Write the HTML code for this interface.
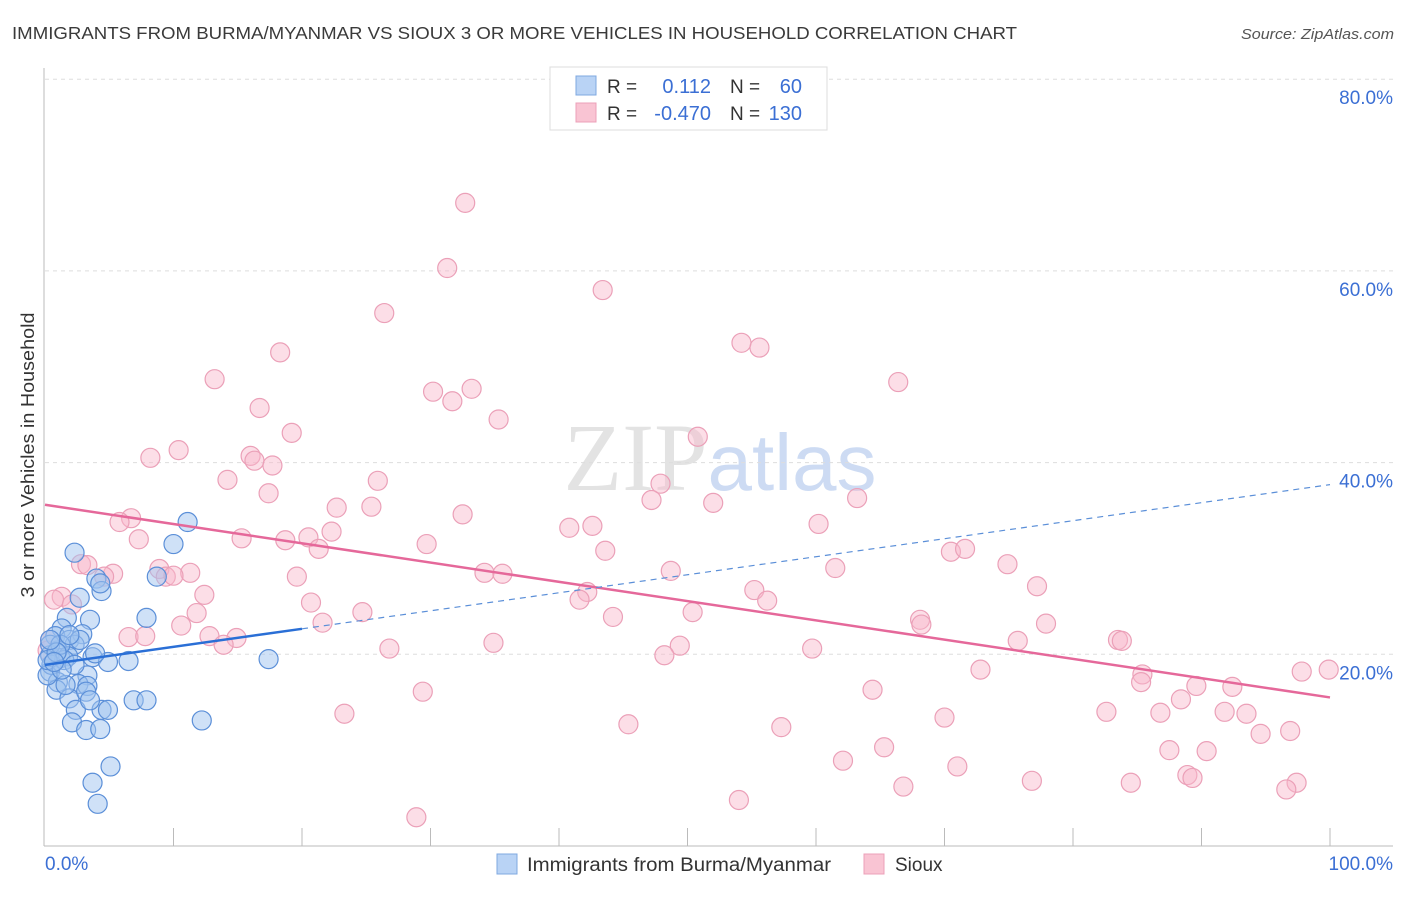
<!DOCTYPE html>
<html><head><meta charset="utf-8"><style>
body{margin:0;background:#fff;font-family:"Liberation Sans",sans-serif}
</style></head><body>
<svg width="1406" height="892" xmlns="http://www.w3.org/2000/svg" font-family="Liberation Sans, sans-serif">
<text x="12" y="39" font-size="17.5" fill="#3a3a3a" textLength="1005" lengthAdjust="spacingAndGlyphs">IMMIGRANTS FROM BURMA/MYANMAR VS SIOUX 3 OR MORE VEHICLES IN HOUSEHOLD CORRELATION CHART</text>
<text x="1394" y="39" font-size="15" fill="#555" font-style="italic" text-anchor="end" textLength="153" lengthAdjust="spacingAndGlyphs">Source: ZipAtlas.com</text>
<text x="720" y="490" font-size="96" text-anchor="middle" fill="#d8d8d8" opacity="0.7" font-family="Liberation Serif, serif">ZIP<tspan fill="#b8cdef" font-family="Liberation Sans, sans-serif" font-size="80">atlas</tspan></text>
<g id="grid"></g>
<g id="axes"></g>
<g id="marks"></g>
<text transform="translate(34,455) rotate(-90)" font-size="18" fill="#333" text-anchor="middle" textLength="285" lengthAdjust="spacingAndGlyphs">3 or more Vehicles in Household</text>
<g>
<rect x="550" y="67" width="277" height="63" fill="#fff" stroke="#ddd"/>
<rect x="576" y="76" width="20" height="19" fill="#b9d3f5" stroke="#7fa8e0"/>
<rect x="576" y="103" width="20" height="19" fill="#f9c4d3" stroke="#eca0b8"/>
<text x="607" y="93" font-size="19" fill="#333">R =</text>
<text x="711" y="93" font-size="20" fill="#3b6fd4" text-anchor="end">0.112</text>
<text x="730" y="93" font-size="19" fill="#333">N =</text>
<text x="802" y="93" font-size="20" fill="#3b6fd4" text-anchor="end">60</text>
<text x="607" y="120" font-size="19" fill="#333">R =</text>
<text x="711" y="120" font-size="20" fill="#3b6fd4" text-anchor="end">-0.470</text>
<text x="730" y="120" font-size="19" fill="#333">N =</text>
<text x="802" y="120" font-size="20" fill="#3b6fd4" text-anchor="end">130</text>
</g>
<g>
<rect x="497" y="854" width="20" height="20" fill="#b9d3f5" stroke="#7fa8e0"/>
<text x="527" y="871" font-size="19" fill="#333" textLength="304" lengthAdjust="spacingAndGlyphs">Immigrants from Burma/Myanmar</text>
<rect x="864" y="854" width="20" height="20" fill="#f9c4d3" stroke="#eca0b8"/>
<text x="895" y="871" font-size="19" fill="#333">Sioux</text>
</g>
</svg>
<script>
const yTicks=[20,40,60,80];
const yTickLabels=["20.0%","40.0%","60.0%","80.0%"];
const xTicks=[10,20,30,40,50,60,70,80,90,100];
const blueX=[2.3,11.1,10.0,8.7,4.0,4.4,2.7,4.3,7.9,3.5,1.7,1.3,0.8,1.9,2.9,2.3,1.0,0.4,1.2,1.8,3.7,4.9,6.5,17.4,0.4,3.3,1.0,2.6,3.3,0.9,1.9,6.9,7.9,2.4,4.4,4.9,2.1,3.2,4.3,12.2,5.1,3.7,4.1,0.4,0.5,1.5,0.2,3.2,1.6,1.2,2.3,0.2,0.9,2.7,3.9,1.9,1.3,3.5,0.4,0.7];
const blueY=[30.6,33.8,31.5,28.1,27.9,26.6,25.9,27.4,23.8,23.6,23.8,22.7,21.9,21.5,22.1,21.0,20.4,19.9,19.6,19.8,19.7,19.2,19.3,19.5,18.2,17.8,17.1,16.9,16.7,16.3,15.4,15.2,15.2,14.2,14.2,14.2,12.9,12.1,12.2,13.1,8.3,6.6,4.4,21.0,18.9,19.4,17.8,16.1,16.8,21.0,18.9,19.4,20.2,21.5,20.1,22.0,18.4,15.2,21.5,19.2];
const pinkX=[32.7,31.3,43.4,26.4,18.3,54.2,55.6,66.4,13.2,33.2,30.2,31.7,16.7,35.3,19.2,50.8,10.4,8.2,16.0,16.3,17.7,14.2,25.9,47.9,47.2,63.2,17.4,52.0,22.7,25.4,32.5,6.7,5.8,42.6,40.8,60.2,7.3,15.3,22.3,18.7,20.5,29.7,21.3,43.6,70.5,71.6,74.9,2.8,3.3,8.9,9.4,11.3,10.0,5.3,19.6,34.2,35.6,48.7,61.5,77.2,1.3,0.7,2.1,4.6,12.4,20.7,42.2,41.6,55.2,56.2,11.8,24.7,44.2,50.4,68.1,68.2,10.6,21.6,77.9,6.5,7.8,12.8,14.9,13.9,34.9,49.4,48.2,26.8,59.7,75.7,83.5,83.8,85.4,85.3,97.8,99.9,72.8,29.4,64.4,89.6,92.4,88.4,82.6,86.8,91.8,93.5,23.3,45.4,70.0,57.3,94.6,96.9,65.3,87.5,90.4,62.1,71.0,88.9,89.3,76.8,84.5,97.4,96.6,66.8,54.0,28.9,0.4,0.2];
const pinkY=[67.1,60.3,58.0,55.6,51.5,52.5,52.0,48.4,48.7,47.7,47.4,46.4,45.7,44.5,43.1,42.7,41.3,40.5,40.7,40.2,39.7,38.2,38.1,37.8,36.1,36.3,36.8,35.8,35.3,35.4,34.6,34.2,33.8,33.4,33.2,33.6,32.0,32.1,32.8,31.9,32.2,31.5,31.0,30.8,30.7,31.0,29.4,29.4,29.3,28.9,28.1,28.5,28.2,28.4,28.1,28.5,28.4,28.7,29.0,27.1,26.0,25.7,25.2,28.1,26.2,25.4,26.5,25.7,26.7,25.6,24.3,24.4,23.9,24.4,23.6,23.1,23.0,23.3,23.2,21.8,21.9,21.9,21.7,21.0,21.2,20.9,19.9,20.6,20.6,21.4,21.5,21.4,17.9,17.1,18.2,18.4,18.4,16.1,16.3,16.7,16.6,15.3,14.0,13.9,14.0,13.8,13.8,12.7,13.4,12.4,11.7,12.0,10.3,10.0,9.9,8.9,8.3,7.4,7.1,6.8,6.6,6.6,5.9,6.2,4.8,3.0,21.5,20.4];
const blueTrend=[18.9,0.188];
const pinkTrend=[35.6,-0.201];
const NS="http://www.w3.org/2000/svg";
const X=v=>45+v*12.85, Y=v=>846-v*9.585;
function mk(t,a,p){const e=document.createElementNS(NS,t);for(const k in a)e.setAttribute(k,a[k]);document.getElementById(p).appendChild(e);return e;}
yTicks.forEach((t,i)=>{
 const g=mk('line',{x1:45,x2:1393,y1:Y(t),y2:Y(t),stroke:'#ddd','stroke-dasharray':'4,4'},'grid');
 
 
 const l=mk('text',{x:1393,y:Y(t)+25,'font-size':19,fill:'#3b6fd4','text-anchor':'end'},'axes');
 l.textContent=yTickLabels[i];
 
 
});
mk('line',{x1:44,x2:44,y1:68,y2:846,stroke:'#bbb'},'axes');
mk('line',{x1:44,x2:1393,y1:846,y2:846,stroke:'#bbb'},'axes');
xTicks.forEach(t=>{
 const k=mk('line',{x1:X(t),x2:X(t),y1:828,y2:846,stroke:'#bbb'},'axes');
 
 
});
const x0=mk('text',{x:45,y:870,'font-size':19,fill:'#3b6fd4'},'axes');x0.textContent='0.0%';


const x1=mk('text',{x:1393,y:870,'font-size':19,fill:'#3b6fd4','text-anchor':'end'},'axes');x1.textContent='100.0%';


pinkX.forEach((v,i)=>{
 const c=mk('circle',{cx:X(v),cy:Y(pinkY[i]),r:9.5,fill:'rgba(248,182,202,0.45)',stroke:'#eba0b8','stroke-width':1.2},'marks');
 
 
});
blueX.forEach((v,i)=>{
 const c=mk('circle',{cx:X(v),cy:Y(blueY[i]),r:9.5,fill:'rgba(160,196,240,0.5)',stroke:'#5b8fd8','stroke-width':1.2},'marks');
 
 
});
const pl=mk('line',{x1:X(0),y1:Y(pinkTrend[0]),x2:X(100),y2:Y(pinkTrend[0]+pinkTrend[1]*100),stroke:'#e5689a','stroke-width':2.5},'marks');


const bs=mk('line',{x1:X(0),y1:Y(blueTrend[0]),x2:X(20),y2:Y(blueTrend[0]+blueTrend[1]*20),stroke:'#2a6fd6','stroke-width':2.5},'marks');


const bd=mk('line',{x1:X(20),y1:Y(blueTrend[0]+blueTrend[1]*20),x2:X(100),y2:Y(blueTrend[0]+blueTrend[1]*100),stroke:'#5b8fd8','stroke-width':1.2,'stroke-dasharray':'6,5'},'marks');


</script>
</body></html>
